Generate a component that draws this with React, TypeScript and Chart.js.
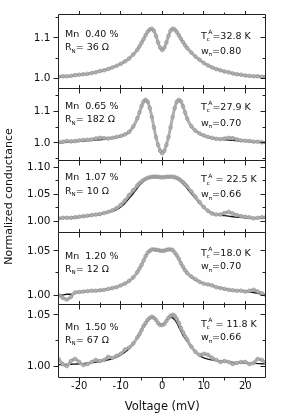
import React, { useEffect, useRef } from "react";
import { Chart, registerables } from "chart.js";
Chart.register(...registerables);

// Voltage grid (mV)
const voltages = [
  -25, -24, -23, -22, -21, -20, -19, -18, -17, -16, -15, -14, -13, -12, -11, -10, -9, -8, -7, -6,
  -5.5, -5, -4.5, -4, -3.5, -3, -2.5, -2, -1.5, -1, -0.5, 0, 0.5, 1, 1.5, 2, 2.5, 3, 3.5, 4, 4.5, 5, 5.5,
  6, 7, 8, 9, 10, 11, 12, 13, 14, 15, 16, 17, 18, 19, 20, 21, 22, 23, 24, 25,
];

// Mn 0.40 %
const expMn040 = [
  1.004, 1.005, 1.005, 1.006, 1.008, 1.009, 1.010, 1.011, 1.013, 1.015, 1.018, 1.020, 1.023, 1.027, 1.031, 1.036, 1.042, 1.049, 1.059, 1.071,
  1.079, 1.088, 1.097, 1.107, 1.116, 1.121, 1.123, 1.118, 1.105, 1.089, 1.076, 1.070, 1.076, 1.089, 1.105, 1.118, 1.123, 1.121, 1.115, 1.107, 1.098, 1.090, 1.082,
  1.075, 1.064, 1.054, 1.046, 1.038, 1.032, 1.027, 1.023, 1.020, 1.017, 1.015, 1.012, 1.010, 1.009, 1.007, 1.006, 1.005, 1.005, 1.004, 1.004,
];
const fitMn040 = [
  1.003, 1.004, 1.005, 1.006, 1.007, 1.008, 1.009, 1.011, 1.013, 1.015, 1.017, 1.020, 1.023, 1.027, 1.031, 1.035, 1.041, 1.049, 1.058, 1.070,
  1.078, 1.087, 1.096, 1.106, 1.115, 1.120, 1.122, 1.117, 1.104, 1.088, 1.075, 1.069, 1.075, 1.088, 1.104, 1.117, 1.122, 1.120, 1.114, 1.106, 1.097, 1.089, 1.081,
  1.074, 1.063, 1.053, 1.045, 1.038, 1.032, 1.027, 1.023, 1.019, 1.016, 1.014, 1.012, 1.010, 1.008, 1.007, 1.006, 1.005, 1.004, 1.003, 1.003,
];

// Mn 0.65 %
const expMn065 = [
  1.002, 1.004, 1.006, 1.005, 1.006, 1.008, 1.009, 1.010, 1.011, 1.014, 1.016, 1.015, 1.014, 1.016, 1.019, 1.022, 1.027, 1.035, 1.052, 1.078,
  1.096, 1.116, 1.131, 1.136, 1.130, 1.110, 1.082, 1.049, 1.018, 0.994, 0.975, 0.967, 0.975, 0.994, 1.018, 1.049, 1.082, 1.110, 1.130, 1.136, 1.131, 1.116, 1.096,
  1.077, 1.053, 1.039, 1.030, 1.024, 1.019, 1.016, 1.013, 1.012, 1.014, 1.016, 1.015, 1.011, 1.008, 1.007, 1.006, 1.004, 1.004, 1.002, 1.001,
];
const fitMn065 = [
  1.000, 1.001, 1.002, 1.003, 1.004, 1.005, 1.006, 1.007, 1.008, 1.009, 1.010, 1.011, 1.013, 1.015, 1.017, 1.020, 1.025, 1.032, 1.048, 1.074,
  1.093, 1.113, 1.128, 1.134, 1.128, 1.108, 1.080, 1.048, 1.018, 0.995, 0.976, 0.968, 0.976, 0.995, 1.018, 1.048, 1.080, 1.108, 1.128, 1.134, 1.129, 1.113, 1.093,
  1.074, 1.050, 1.036, 1.028, 1.022, 1.018, 1.015, 1.013, 1.011, 1.010, 1.009, 1.008, 1.007, 1.006, 1.005, 1.004, 1.003, 1.002, 1.001, 1.000,
];

// Mn 1.07 %
const expMn107 = [
  1.005, 1.006, 1.006, 1.006, 1.007, 1.008, 1.009, 1.010, 1.011, 1.012, 1.013, 1.015, 1.017, 1.020, 1.024, 1.030, 1.038, 1.048, 1.057, 1.066,
  1.070, 1.073, 1.076, 1.078, 1.080, 1.081, 1.082, 1.082, 1.082, 1.082, 1.081, 1.081, 1.081, 1.082, 1.082, 1.082, 1.082, 1.081, 1.080, 1.078, 1.075, 1.072, 1.068,
  1.064, 1.055, 1.045, 1.035, 1.026, 1.019, 1.014, 1.012, 1.012, 1.015, 1.017, 1.014, 1.011, 1.009, 1.008, 1.007, 1.005, 1.006, 1.007, 1.007,
];
const fitMn107 = [
  1.004, 1.005, 1.005, 1.006, 1.006, 1.007, 1.008, 1.009, 1.010, 1.011, 1.012, 1.014, 1.016, 1.018, 1.021, 1.026, 1.033, 1.042, 1.051, 1.061,
  1.066, 1.070, 1.074, 1.077, 1.079, 1.080, 1.081, 1.082, 1.0825, 1.082, 1.081, 1.081, 1.081, 1.082, 1.082, 1.082, 1.081, 1.080, 1.078, 1.076, 1.073, 1.069, 1.065,
  1.060, 1.051, 1.042, 1.033, 1.025, 1.019, 1.015, 1.013, 1.011, 1.010, 1.009, 1.008, 1.007, 1.007, 1.006, 1.006, 1.005, 1.005, 1.005, 1.005,
];

// Mn 1.20 %
const expMn120 = [
  1.000, 0.997, 0.995, 0.998, 1.003, 1.0035, 1.004, 1.0045, 1.005, 1.005, 1.0055, 1.006, 1.007, 1.008, 1.009, 1.011, 1.013, 1.016, 1.020, 1.026,
  1.030, 1.034, 1.039, 1.044, 1.048, 1.050, 1.0515, 1.0515, 1.051, 1.051, 1.050, 1.050, 1.050, 1.051, 1.0515, 1.0515, 1.051, 1.048, 1.045, 1.041, 1.036, 1.032, 1.028,
  1.025, 1.021, 1.018, 1.015, 1.013, 1.012, 1.011, 1.009, 1.008, 1.007, 1.006, 1.0055, 1.005, 1.005, 1.004, 1.005, 1.006, 1.004, 1.002, 1.000,
];
const fitMn120 = [
  1.000, 1.000, 1.001, 1.001, 1.003, 1.0035, 1.004, 1.0045, 1.005, 1.005, 1.0055, 1.006, 1.007, 1.008, 1.009, 1.011, 1.013, 1.016, 1.020, 1.026,
  1.030, 1.034, 1.039, 1.044, 1.048, 1.050, 1.051, 1.052, 1.0515, 1.051, 1.0505, 1.050, 1.0505, 1.051, 1.052, 1.052, 1.051, 1.048, 1.044, 1.040, 1.035, 1.031, 1.027,
  1.024, 1.020, 1.017, 1.015, 1.013, 1.012, 1.011, 1.009, 1.008, 1.007, 1.006, 1.0055, 1.005, 1.0045, 1.004, 1.0035, 1.003, 1.002, 1.001, 1.000,
];

// Mn 1.50 %
const expMn150 = [
  1.007, 1.002, 1.000, 1.005, 1.007, 1.004, 1.001, 1.002, 1.004, 1.006, 1.005, 1.006, 1.009, 1.008, 1.010, 1.012, 1.016, 1.018, 1.022, 1.028,
  1.031, 1.035, 1.039, 1.042, 1.045, 1.047, 1.048, 1.047, 1.045, 1.042, 1.040, 1.040, 1.041, 1.044, 1.047, 1.049, 1.050, 1.049, 1.046, 1.042, 1.037, 1.033, 1.029,
  1.026, 1.019, 1.014, 1.011, 1.012, 1.011, 1.008, 1.006, 1.004, 1.005, 1.004, 1.002, 1.003, 1.004, 1.004, 1.002, 1.003, 1.007, 1.006, 1.003,
];
const fitMn150 = [
  1.0013, 1.0015, 1.0017, 1.0018, 1.002, 1.0022, 1.0025, 1.0029, 1.0033, 1.0039, 1.0045, 1.0052, 1.006, 1.0072, 1.0088, 1.011, 1.0135, 1.017, 1.021, 1.027,
  1.030, 1.034, 1.038, 1.041, 1.044, 1.046, 1.047, 1.0468, 1.045, 1.042, 1.0405, 1.040, 1.041, 1.0435, 1.046, 1.0474, 1.047, 1.045, 1.042, 1.038, 1.034, 1.030, 1.027,
  1.024, 1.018, 1.014, 1.010, 1.008, 1.0068, 1.006, 1.0055, 1.005, 1.0045, 1.004, 1.0037, 1.0034, 1.0032, 1.003, 1.0028, 1.0027, 1.0025, 1.0023, 1.0022,
];

const expSeries = [expMn040, expMn065, expMn107, expMn120, expMn150];
const fitSeries = [fitMn040, fitMn065, fitMn107, fitMn120, fitMn150];

// Labels
const mnLabels = ["Mn  0.40 %", "Mn  0.65 %", "Mn  1.07 %", "Mn  1.20 %", "Mn  1.50 %"];
const rnLabels = ["= 36 \u03A9", "= 182 \u03A9", "= 10 \u03A9", "= 12 \u03A9", "= 67 \u03A9"];
const tcLabels = ["=32.8 K", "=27.9 K", " = 22.5 K", "=18.0 K", " = 11.8 K"];
const wLabels = ["=0.80", "=0.70", "=0.66", "=0.70", "=0.66"];

// Axes
const yRanges = [
  [0.9751, 1.1587],
  [0.9446, 1.1723],
  [0.9787, 1.1121],
  [0.98956, 1.0705],
  [0.9889, 1.0601],
];
const yMajorTicks = [[1.0, 1.1], [1.0, 1.1], [1.0, 1.05, 1.1], [1.0, 1.05], [1.0, 1.05]];
const yMinorTicks = [[1.05, 1.15], [0.95, 1.05, 1.15], [1.025, 1.075], [1.025], [1.025]];
const yDecimals = [1, 1, 2, 2, 2];
const xMajorTicks = [-20, -10, 0, 10, 20];
const xMinorTicks = [-15, -5, 5, 15];

// Layout (pixels)
const panelWeights = [76, 74, 74, 73.7, 75];
const mnBase = [22.5, 21, 19.5, 26.5, 25.8];
const rnBase = [35.8, 34, 33.2, 39, 38.5];
const tcBase = [24.5, 21.2, 22, 23, 22.5];
const wBase = [39.2, 37.5, 37, 36.8, 35.8];

const FONT = '"DejaVu Sans", sans-serif';
const font = (s: number) => `${s}px ${FONT}`;

function drawTextRuns(ctx: CanvasRenderingContext2D, x: number, y: number, runs: any[]) {
  let cx = x;
  for (const r of runs) {
    ctx.font = font(r.size);
    ctx.fillText(r.text, cx + (r.dx || 0), y + (r.dy || 0));
    if (!r.noAdvance) cx += ctx.measureText(r.text).width + (r.dx || 0) + (r.extra || 0);
  }
}

const framePlugin = {
  id: "panelFrames",
  afterDraw(chart: any) {
    const ctx: CanvasRenderingContext2D = chart.ctx;
    const area = chart.chartArea;
    const xs = chart.scales.x;
    const snap = (v: number) => Math.floor(v) + 0.5;
    const l = snap(area.left);
    const r = snap(area.right - 0.01);
    ctx.save();
    ctx.strokeStyle = "#222";
    ctx.lineWidth = 1;
    for (let i = 0; i < 5; i++) {
      const ys = chart.scales["y" + i];
      const top = snap(ys.top);
      const bot = snap(ys.bottom - 0.01);
      ctx.beginPath();
      ctx.rect(l, top, r - l, bot - top);
      ctx.stroke();
      ctx.beginPath();
      for (const v of xMajorTicks) {
        const px = snap(xs.getPixelForValue(v));
        ctx.moveTo(px, top);
        ctx.lineTo(px, top - 3.5);
        ctx.moveTo(px, bot);
        ctx.lineTo(px, bot + 5);
      }
      for (const v of xMinorTicks) {
        const px = snap(xs.getPixelForValue(v));
        ctx.moveTo(px, top);
        ctx.lineTo(px, top - 2);
        ctx.moveTo(px, bot);
        ctx.lineTo(px, bot + 3);
      }
      for (const v of yMajorTicks[i]) {
        const py = snap(ys.getPixelForValue(v));
        ctx.moveTo(l, py);
        ctx.lineTo(l - 5, py);
        ctx.moveTo(r, py);
        ctx.lineTo(r - 5, py);
      }
      for (const v of yMinorTicks[i]) {
        const py = snap(ys.getPixelForValue(v));
        ctx.moveTo(l, py);
        ctx.lineTo(l - 3, py);
        ctx.moveTo(r, py);
        ctx.lineTo(r - 3, py);
      }
      ctx.stroke();

      // annotations
      ctx.fillStyle = "#111";
      ctx.textBaseline = "alphabetic";
      ctx.textAlign = "left";
      const lx = area.left + 6.5;
      const rx = area.right - 65;
      const pt = ys.top;
      drawTextRuns(ctx, lx, pt + mnBase[i], [{ text: mnLabels[i], size: 9.5 }]);
      drawTextRuns(ctx, lx, pt + rnBase[i], [
        { text: "R", size: 9.5 },
        { text: "N", size: 5.5, dy: 2.5 },
        { text: rnLabels[i], size: 9.5 },
      ]);
      drawTextRuns(ctx, rx, pt + tcBase[i], [
        { text: "T", size: 9.5 },
        { text: "c", size: 5.5, dy: 2.5, noAdvance: true },
        { text: "A", size: 6, dy: -4.5, dx: 1.5, extra: 0 },
        { text: tcLabels[i], size: 9.5 },
      ]);
      drawTextRuns(ctx, rx, pt + wBase[i], [
        { text: "w", size: 9.5 },
        { text: "\u03C0", size: 5.5, dy: 2.5 },
        { text: wLabels[i], size: 9.5 },
      ]);
    }
    ctx.restore();
  },
};

export default function App() {
  const ref = useRef<HTMLCanvasElement>(null);
  useEffect(() => {
    const datasets: any[] = [];
    for (let i = 0; i < 5; i++) {
      datasets.push({
        label: "data" + i,
        yAxisID: "y" + i,
        data: voltages.map((v, k) => ({ x: v, y: expSeries[i][k] })),
        borderColor: "#b0b0b0",
        borderWidth: 3,
        pointRadius: 1.8,
        pointBorderWidth: 0.8,
        pointBorderColor: "#959595",
        pointBackgroundColor: "rgba(255,255,255,0)",
        cubicInterpolationMode: "monotone",
      });
      datasets.push({
        label: "fit" + i,
        yAxisID: "y" + i,
        data: voltages.map((v, k) => ({ x: v, y: fitSeries[i][k] })),
        borderColor: "#111",
        borderWidth: 1.3,
        pointRadius: 0,
        cubicInterpolationMode: "monotone",
      });
    }
    const scales: any = {
      x: {
        type: "linear",
        position: "bottom",
        min: -25,
        max: 25,
        grid: { display: false, drawTicks: false },
        border: { display: false },
        afterBuildTicks: (s: any) => {
          s.ticks = xMajorTicks.map((v) => ({ value: v }));
        },
        afterFit: (s: any) => {
          s.height = 41.5;
        },
        ticks: {
          autoSkip: false,
          maxRotation: 0,
          padding: 3,
          color: "#111",
          font: { family: FONT, size: 10 },
          callback: (v: any) => String(v),
        },
        title: {
          display: true,
          text: "Voltage (mV)",
          color: "#111",
          font: { family: FONT, size: 11.5 },
          padding: { top: 0, bottom: 5 },
        },
      },
    };
    for (let i = 0; i < 5; i++) {
      scales["y" + i] = {
        type: "linear",
        position: "left",
        stack: "panels",
        stackWeight: panelWeights[i],
        weight: 5 - i,
        min: yRanges[i][0],
        max: yRanges[i][1],
        grid: { display: false, drawTicks: false },
        border: { display: false },
        afterBuildTicks: (s: any) => {
          s.ticks = yMajorTicks[i].map((v) => ({ value: v }));
        },
        afterFit: (s: any) => {
          s.width = 58.5;
        },
        ticks: {
          autoSkip: false,
          padding: 8,
          color: "#111",
          font: { family: FONT, size: 10.5 },
          callback: (v: any) => Number(v).toFixed(yDecimals[i]),
        },
        title:
          i === 2
            ? {
                display: true,
                text: "Normalized conductance",
                color: "#111",
                font: { family: FONT, size: 11 },
                padding: { top: 3, bottom: 0 },
              }
            : { display: false },
      };
    }
    const chart = new Chart(ref.current as HTMLCanvasElement, {
      type: "line",
      data: { datasets },
      options: {
        animation: false,
        responsive: false,
        devicePixelRatio: 1,
        layout: { padding: { top: 5, right: 25, left: 0, bottom: 0 } },
        plugins: { legend: { display: false }, tooltip: { enabled: false } },
        scales,
      } as any,
      plugins: [framePlugin],
    } as any);
    return () => chart.destroy();
  }, []);
  return (
    <div style={{ position: "absolute", left: 0, top: 0, width: 291, height: 419, background: "#fff" }}>
      <canvas ref={ref} width={291} height={419} style={{ display: "block", width: 291, height: 419 }} />
    </div>
  );
}
